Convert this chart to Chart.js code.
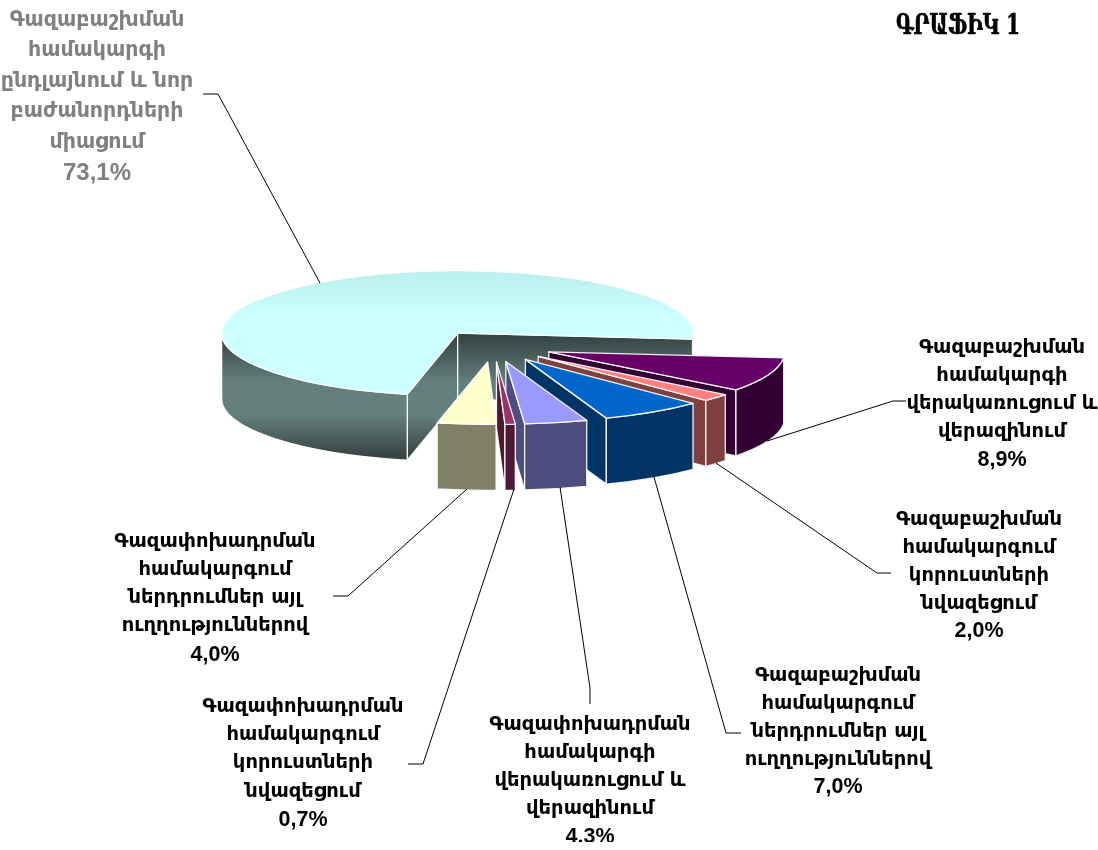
<!DOCTYPE html>
<html>
<head>
<meta charset="utf-8">
<script src="https://cdn.jsdelivr.net/npm/chart.js@4"></script>
<style>html,body{margin:0;padding:0;background:#fff}canvas{display:block}</style>
</head>
<body>
<canvas id="c" width="1098" height="842"></canvas>
<script>
const categories = [
  "Գազաբաշխման համակարգի վերակառուցում և վերազինում",
  "Գազաբաշխման համակարգում կորուստների նվազեցում",
  "Գազաբաշխման համակարգում ներդրումներ այլ ուղղություններով",
  "Գազափոխադրման համակարգի վերակառուցում և վերազինում",
  "Գազափոխադրման համակարգում կորուստների նվազեցում",
  "Գազափոխադրման համակարգում ներդրումներ այլ ուղղություններով",
  "Գազաբաշխման համակարգի ընդլայնում և նոր բաժանորդների միացում"
];
const values = [8.9, 2.0, 7.0, 4.3, 0.7, 4.0, 73.1];
const valueLabels = ["8,9%", "2,0%", "7,0%", "4,3%", "0,7%", "4,0%", "73,1%"];
const topColors = ["#660066", "#FF8080", "#0066CC", "#9999FF", "#993366", "#FFFFCC", "#CCFFFF"];
const wallColors = ["#330033", "#7F4040", "#003366", "#4D4D80", "#4D1933", "#808066", null];

const labelLines = [
  ["Գազաբաշխման", "համակարգի", "վերակառուցում և", "վերազինում"],
  ["Գազաբաշխման", "համակարգում", "կորուստների", "նվազեցում"],
  ["Գազաբաշխման", "համակարգում", "ներդրումներ այլ", "ուղղություններով"],
  ["Գազափոխադրման", "համակարգի", "վերակառուցում և", "վերազինում"],
  ["Գազափոխադրման", "համակարգում", "կորուստների", "նվազեցում"],
  ["Գազափոխադրման", "համակարգում", "ներդրումներ այլ", "ուղղություններով"],
  ["Գազաբաշխման", "համակարգի", "ընդլայնում և նոր", "բաժանորդների", "միացում"]
];
const labelCenterX = [1002, 979, 838, 590, 303, 215, 97];
const labelFirstY = [347.5, 519.5, 675.5, 724.5, 706.5, 541.5, 20.5];
const labelStep = [28.2, 28, 28, 28.2, 28.4, 28.3, 30.5];
const leaders = [
  [[767,441],[893,401],[906,401]],
  [[716,463],[877,573],[891,573]],
  [[654,477],[726,733],[741,733]],
  [[560,487],[590,688],[590,704]],
  [[514,489],[423,764],[408,764]],
  [[467,489],[348,596],[333,596]],
  [[320,283],[218,94],[203,94]]
];
const titleText = "ԳՐԱՖԻԿ 1";

const FLAT = 0.265, EXPLODE = 60, DEPTH = 66, RADIUS = 236;

function bigWallGradient(ctx) {
  const g = ctx.createLinearGradient(0, 336, 0, 460);
  g.addColorStop(0, "#364543");
  g.addColorStop(0.38, "#647F7C");
  g.addColorStop(0.64, "#647F7C");
  g.addColorStop(1, "#333F3D");
  return g;
}
function topColor(c) {
  const col = topColors[c.dataIndex];
  if (col !== "#CCFFFF" || !c.chart.chartArea) return col;
  const a = c.chart.chartArea, cy = (a.top + a.bottom) / 2;
  const g = c.chart.ctx.createLinearGradient(0, cy - RADIUS, 0, cy);
  g.addColorStop(0, "#B9EFED");
  g.addColorStop(0.75, "#CCFFFF");
  g.addColorStop(1, "#CCFFFF");
  return g;
}

const pie3d = {
  id: "pie3d",
  beforeDatasetsDraw(chart) {
    const ctx = chart.ctx, arcs = chart.getDatasetMeta(0).data;
    const order = arcs.map((a, i) => i).sort((p, q) =>
      Math.sin((arcs[p].startAngle + arcs[p].endAngle) / 2) - Math.sin((arcs[q].startAngle + arcs[q].endAngle) / 2));
    for (const i of order) {
      const a = arcs[i], s = a.startAngle, e = a.endAngle, R = a.outerRadius;
      const mid = (s + e) / 2;
      const ax = a.x + EXPLODE * Math.cos(mid), ay = a.y + EXPLODE * FLAT * Math.sin(mid);
      const rim = t => [ax + R * Math.cos(t), ay + FLAT * R * Math.sin(t)];
      const wall = wallColors[i] || bigWallGradient(ctx);
      ctx.save();
      ctx.fillStyle = wall;
      ctx.strokeStyle = "rgba(255,255,255,0.92)";
      ctx.lineWidth = 1.3;
      ctx.lineJoin = "round";
      const face = t => {
        const p = rim(t);
        ctx.beginPath();
        ctx.moveTo(ax, ay); ctx.lineTo(p[0], p[1]);
        ctx.lineTo(p[0], p[1] + DEPTH); ctx.lineTo(ax, ay + DEPTH);
        ctx.closePath(); ctx.fill(); ctx.stroke();
      };
      if (Math.sin(s - Math.PI / 2) > 0) face(s);
      if (Math.cos(e) > 0) face(e);
      for (let n = -1; n < 3; n++) {
        const t1 = Math.max(s, 2 * Math.PI * n), t2 = Math.min(e, 2 * Math.PI * n + Math.PI);
        if (t2 <= t1) continue;
        ctx.beginPath();
        ctx.ellipse(ax, ay, R, FLAT * R, 0, t1, t2);
        ctx.ellipse(ax, ay + DEPTH, R, FLAT * R, 0, t2, t1, true);
        ctx.closePath(); ctx.fill(); ctx.stroke();
      }
      // top of the slice: the library's own arc element, flattened and moved out
      ctx.save();
      ctx.translate(ax, ay);
      ctx.scale(1, FLAT);
      ctx.translate(-a.x, -a.y);
      a.draw(ctx);
      ctx.restore();
      ctx.beginPath();
      ctx.moveTo(ax, ay);
      ctx.ellipse(ax, ay, R, FLAT * R, 0, s, e);
      ctx.closePath();
      ctx.stroke();
      ctx.restore();
    }
    return false;
  },
  afterDraw(chart) {
    const ctx = chart.ctx;
    ctx.save();
    ctx.strokeStyle = "#000"; ctx.lineWidth = 1;
    leaders.forEach(l => {
      ctx.beginPath();
      l.forEach((p, j) => j ? ctx.lineTo(p[0], p[1]) : ctx.moveTo(p[0], p[1]));
      ctx.stroke();
    });
    ctx.textAlign = "center"; ctx.textBaseline = "middle";
    values.forEach((v, i) => {
      ctx.fillStyle = i === 6 ? "#808080" : "#000";
      ctx.font = i === 6 ? "bold 20.5px 'DejaVu Sans'" : "bold 19.5px 'DejaVu Sans'";
      const lines = labelLines[i].concat(valueLabels[i]);
      lines.forEach((t, j) => {
        if (j === lines.length - 1) ctx.font = (i === 6 ? "bold 24px" : "bold 21.5px") + " 'Liberation Sans'";
        ctx.fillText(t, labelCenterX[i], labelFirstY[i] + j * labelStep[i]);
      });
    });
    ctx.save();
    ctx.translate(958, 27);
    ctx.scale(0.73, 1);
    ctx.font = "bold 27px 'DejaVu Serif'";
    ctx.fillStyle = "#000";
    ctx.strokeStyle = "#000";
    ctx.lineWidth = 0.6;
    ctx.fillText(titleText, 0, 0);
    ctx.strokeText(titleText, 0, 0);
    ctx.restore();
    ctx.restore();
  }
};

new Chart(document.getElementById("c"), {
  type: "pie",
  data: {
    labels: categories,
    datasets: [{
      data: values,
      backgroundColor: topColor,
      borderWidth: 0,
      radius: RADIUS
    }]
  },
  options: {
    responsive: false,
    animation: false,
    rotation: 95.5,
    layout: { padding: { left: 0, right: 112, top: 0, bottom: 150 } },
    plugins: { legend: { display: false }, tooltip: { enabled: false }, title: { display: false } }
  },
  plugins: [pie3d]
});
</script>
</body>
</html>
